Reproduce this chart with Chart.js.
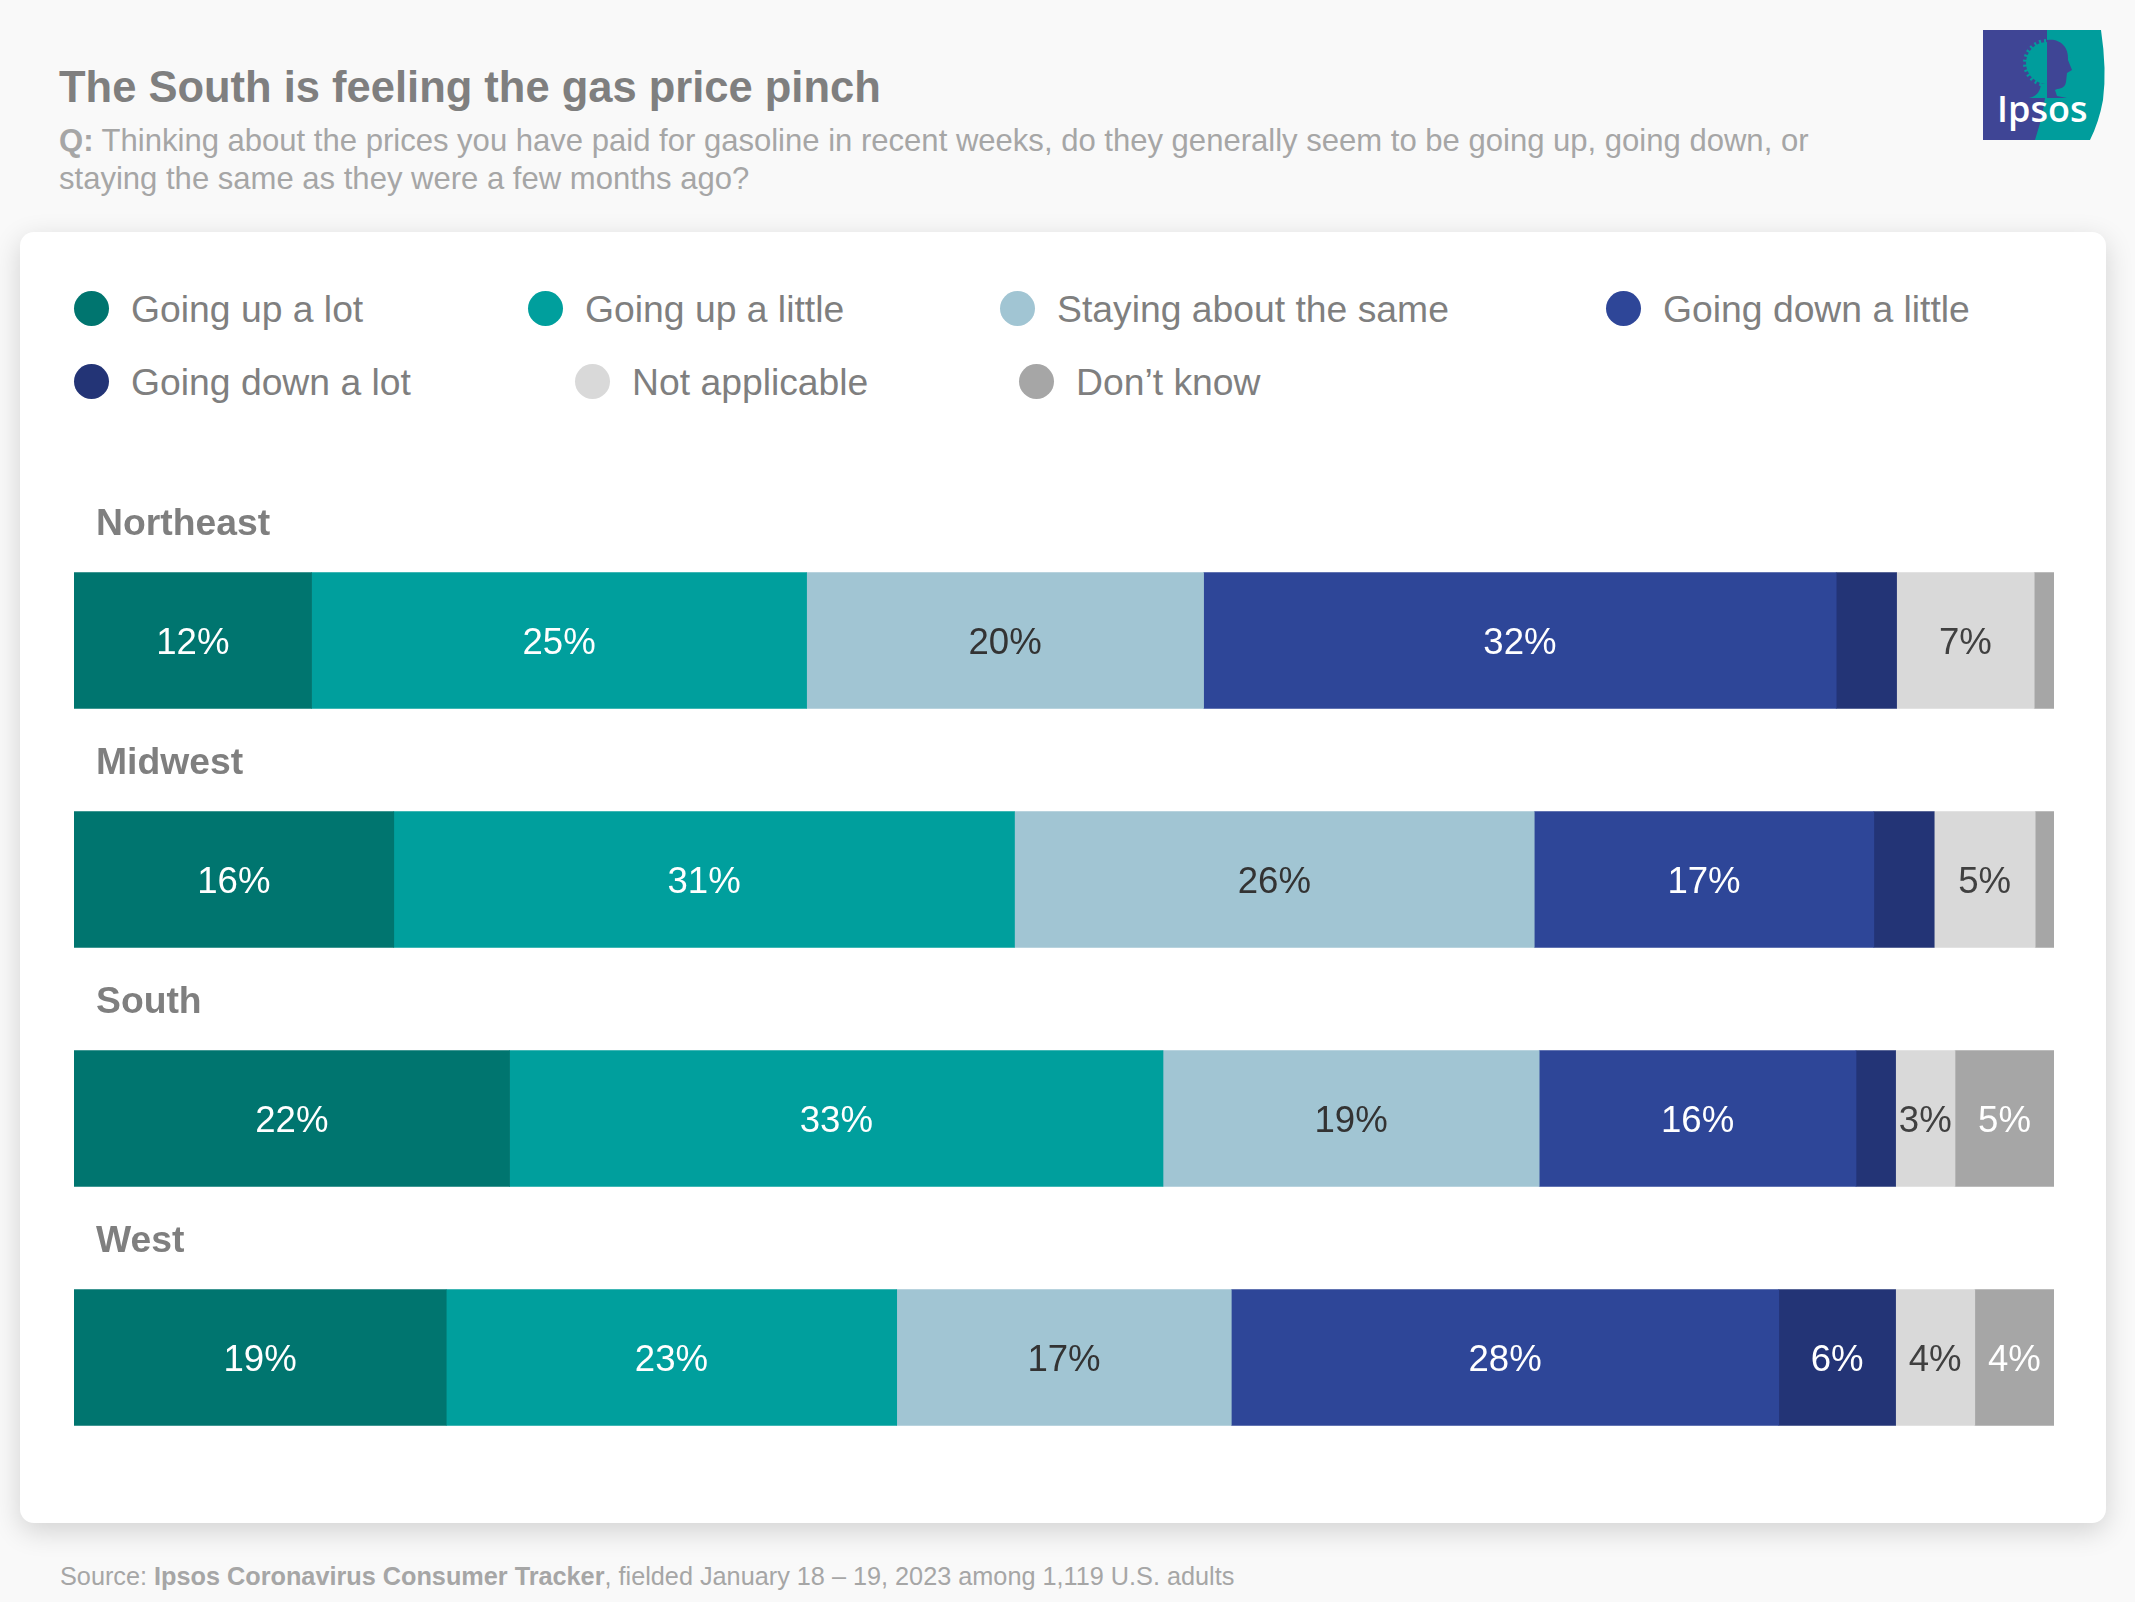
<!DOCTYPE html>
<html>
<head>
<meta charset="utf-8">
<script src="https://cdn.jsdelivr.net/npm/chart.js@4/dist/chart.umd.min.js"></script>
<style>
  html, body { margin: 0; padding: 0; }
  body { width: 2135px; height: 1602px; background: #f9f9f9; position: relative; overflow: hidden;
         font-family: "Liberation Sans", Arial, sans-serif; }
  .title { position: absolute; left: 59px; top: 62px; font-size: 43.5px; line-height: 50px; font-weight: bold; color: #7f7f7f; white-space: nowrap; }
  .question { position: absolute; left: 59px; top: 122px; font-size: 31.05px; line-height: 38px; color: #a6a6a6; white-space: nowrap; }
  .source { position: absolute; left: 60px; top: 1561px; font-size: 25.25px; line-height: 30px; color: #a6a6a6; white-space: nowrap; }
  .card { position: absolute; left: 20px; top: 232px; width: 2086px; height: 1291px; background: #fff; border-radius: 14px;
          box-shadow: 0 8px 28px rgba(0,0,0,.16); }
  .logo { position: absolute; left: 1983px; top: 30px; }
  .dot { position: absolute; width: 35px; height: 35px; border-radius: 50%; }
  .legend-text { position: absolute; font-size: 37.3px; line-height: 44px; color: #7f7f7f; white-space: nowrap; }
  #chart { position: absolute; left: 74px; top: 481px; }
</style>
</head>
<body>
<div class="title">The South is feeling the gas price pinch</div>
<div class="question"><b>Q:</b> Thinking about the prices you have paid for gasoline in recent weeks, do they generally seem to be going up, going down, or<br>staying the same as they were a few months ago?</div>
<svg class="logo" width="124" height="112" viewBox="0 0 124 112">
  <rect x="0" y="0" width="66" height="110" fill="#3f4595"/>
  <path d="M64 0 L118 0 Q124 40 120 70 Q116 92 107 110 L52 110 Q62 80 64 50 Z" fill="#009d9c"/>
  <circle cx="64" cy="33" r="21" fill="#009d9c"/>
  <circle cx="64" cy="33" r="22" fill="none" stroke="#009d9c" stroke-width="4" stroke-dasharray="2 3"/>
  <path d="M64 10 C76 8 86 16 85 30 L89 40 L84 43 L83 52 C82 60 74 58 72 60 L74 66 L84 68 L64 68 Z" fill="#3f4595"/>
  <path d="M58 54 L64 54 L64 68 L46 68 C54 66 57 62 58 54 Z" fill="#009d9c"/>
  <text x="14" y="92" font-family="'Open Sans', 'Noto Sans', sans-serif" font-size="36" font-weight="600" fill="#fff">Ipsos</text>
</svg>
<div class="card"></div>
<div id="legend"></div>
<canvas id="chart" width="1980" height="1001"></canvas>
<div class="source">Source: <b>Ipsos Coronavirus Consumer Tracker</b>, fielded January 18 – 19, 2023 among 1,119 U.S. adults</div>

<script>
// data (bar widths, so not always round numbers)
const regions = ['Northeast', 'Midwest', 'South', 'West'];
const responses = ['Going up a lot', 'Going up a little', 'Staying about the same', 'Going down a little', 'Going down a lot', 'Not applicable', 'Don’t know'];

const upLot    = [12, 16.15, 22, 18.8];
const upLittle = [25, 31.35, 33, 22.75];
const same     = [20.05, 26.25, 19, 16.9];
const downLittle = [31.95, 17.15, 16, 27.65];
const downLot  = [3.05, 3.05, 2, 5.9];
const notAppl  = [6.95, 5.1, 3, 4];
const dontKnow = [1, 0.95, 5, 4];

const fills = ['#00756f', '#009f9d', '#a1c5d3', '#2e4698', '#233476', '#d9d9d9', '#a6a6a6'];
const inks  = ['#ffffff', '#ffffff', '#333333', '#ffffff', '#ffffff', '#404040', '#ffffff'];
// smallest value that gets a printed label, per response
const minLabel = [1, 1, 1, 1, 5, 2.5, 2.5];

/* legend, placed by hand like the original */
const legendDots = [[74, 291], [528, 291], [1000, 291], [1606, 291], [74, 364], [575, 364], [1019, 364]];
const legendEl = document.getElementById('legend');
responses.forEach((name, i) => {
  const [x, y] = legendDots[i];
  const dot = document.createElement('div');
  dot.className = 'dot';
  dot.style.cssText = `left:${x}px;top:${y}px;background:${fills[i]}`;
  const txt = document.createElement('div');
  txt.className = 'legend-text';
  txt.style.cssText = `left:${x + 57}px;top:${y - 4}px`;
  txt.textContent = name;
  legendEl.append(dot, txt);
});

/* percent labels inside the bars + region names above them */
const barText = {
  id: 'barText',
  afterDatasetsDraw(chart) {
    const c = chart.ctx;
    c.save();
    c.textBaseline = 'middle';
    chart.data.datasets.forEach((ds, d) => {
      chart.getDatasetMeta(d).data.forEach((bar, i) => {
        if (ds.data[i] < minLabel[d]) return;
        c.font = '36.6px "Liberation Sans"';
        c.fillStyle = inks[d];
        c.textAlign = 'center';
        c.fillText(Math.round(ds.data[i]) + '%', (bar.x + bar.base) / 2, bar.y + 3);
      });
    });
    const first = chart.getDatasetMeta(0).data;
    c.font = 'bold 37.3px "Liberation Sans"';
    c.fillStyle = '#7f7f7f';
    c.textAlign = 'left';
    regions.forEach((name, i) => {
      c.fillText(name, 22, first[i].y - 116);
    });
    c.restore();
  }
};

new Chart(document.getElementById('chart'), {
  type: 'bar',
  data: {
    labels: regions,
    datasets: [upLot, upLittle, same, downLittle, downLot, notAppl, dontKnow].map((values, i) => ({
      label: responses[i],
      data: values,
      backgroundColor: fills[i],
      barThickness: 136,
    })),
  },
  options: {
    indexAxis: 'y',
    responsive: false,
    animation: false,
    layout: { padding: { top: 40, bottom: 5 } },
    plugins: { legend: { display: false }, tooltip: { enabled: false } },
    scales: {
      x: { stacked: true, display: false, min: 0, max: 100 },
      y: { stacked: true, display: false },
    },
  },
  plugins: [barText],
});
</script>
</body>
</html>
